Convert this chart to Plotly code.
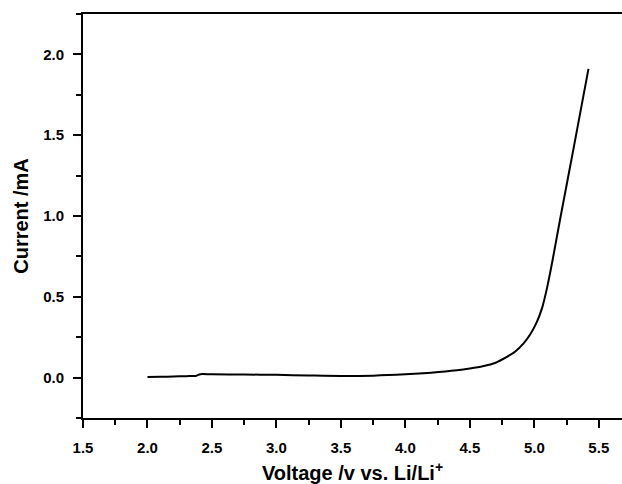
import plotly.graph_objects as go

voltage = [2.0, 2.1, 2.2, 2.3, 2.38, 2.41, 2.5, 2.75, 3.0, 3.25, 3.5, 3.75, 4.0,
           4.2, 4.4, 4.5, 4.6, 4.7, 4.78, 4.85, 4.92, 4.97, 5.02, 5.06, 5.10, 5.14,
           5.2, 5.3, 5.42]
current = [0.003, 0.005, 0.007, 0.009, 0.012, 0.021, 0.020, 0.019, 0.017, 0.013,
           0.010, 0.012, 0.020, 0.030, 0.045, 0.056, 0.070, 0.092, 0.125, 0.160,
           0.215, 0.270, 0.345, 0.430, 0.560, 0.720, 0.980, 1.400, 1.910]

x_ticks = [1.5, 2.0, 2.5, 3.0, 3.5, 4.0, 4.5, 5.0, 5.5]
y_ticks = [0.0, 0.5, 1.0, 1.5, 2.0]

FONT = "Liberation Sans"

fig = go.Figure()
fig.add_trace(go.Scatter(x=voltage, y=current, mode="lines",
                         line=dict(color="black", width=2, shape="spline", smoothing=0.8),
                         showlegend=False))

tickfont = dict(family=FONT, size=15, color="black")

fig.update_layout(
    width=622, height=484,
    margin=dict(l=83, r=0, t=14, b=66),
    paper_bgcolor="white", plot_bgcolor="white",
    font=dict(family=FONT, color="black", size=15),
    xaxis=dict(
        range=[1.5, 5.68], tickvals=x_ticks, ticktext=[f"<b>{v:.1f}</b>" for v in x_ticks],
        showline=True, linecolor="black", linewidth=2, mirror=True, automargin=False,
        ticks="outside", ticklen=8, tickwidth=2, tickcolor="black",
        minor=dict(dtick=0.25, tick0=1.5, ticks="outside", ticklen=5, tickwidth=2, tickcolor="black"),
        showgrid=False, zeroline=False,
        tickfont=tickfont, ticklabelstandoff=7,
        title=dict(text="<b>Voltage /v vs. Li/Li<sup>+</sup></b>", standoff=15,
                   font=dict(family=FONT, size=20, color="black")),
    ),
    yaxis=dict(
        range=[-0.25, 2.25], tickvals=y_ticks, ticktext=[f"<b>{v:.1f}</b>" for v in y_ticks],
        showline=True, linecolor="black", linewidth=2, mirror=False, automargin=False,
        ticks="outside", ticklen=8, tickwidth=2, tickcolor="black",
        minor=dict(dtick=0.25, tick0=0, ticks="outside", ticklen=5, tickwidth=2, tickcolor="black"),
        showgrid=False, zeroline=False,
        tickfont=tickfont, ticklabelstandoff=6,
        title=dict(text="<b>Current /mA</b>", standoff=9,
                   font=dict(family=FONT, size=20, color="black")),
    ),
)

fig.write_html("out.html")
